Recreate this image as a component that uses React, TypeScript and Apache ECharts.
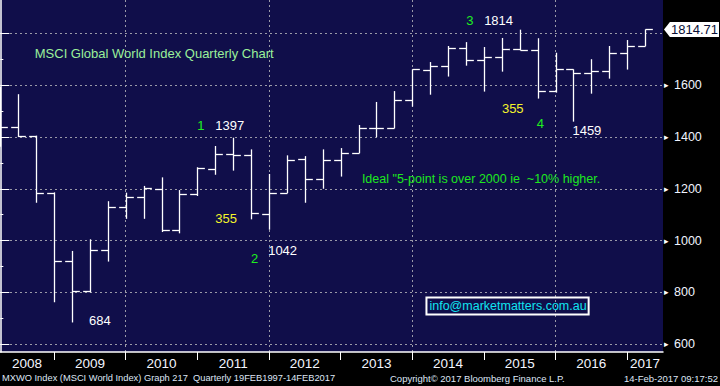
import React, { useEffect, useRef } from 'react';
import * as echarts from 'echarts';

// ---- Data ----
const quarters = [
  '2008Q1', '2008Q2', '2008Q3', '2008Q4', '2009Q1', '2009Q2', '2009Q3', '2009Q4',
  '2010Q1', '2010Q2', '2010Q3', '2010Q4', '2011Q1', '2011Q2', '2011Q3', '2011Q4',
  '2012Q1', '2012Q2', '2012Q3', '2012Q4', '2013Q1', '2013Q2', '2013Q3', '2013Q4',
  '2014Q1', '2014Q2', '2014Q3', '2014Q4', '2015Q1', '2015Q2', '2015Q3', '2015Q4',
  '2016Q1', '2016Q2', '2016Q3', '2016Q4', '2017Q1',
];
const opens = [1589, 1437, 1402, 1185, 921, 804, 963, 1128, 1167, 1198, 1041, 1179, 1275, 1333, 1329, 1101, 1183, 1314, 1237, 1310, 1337, 1433, 1433, 1541, 1657, 1673, 1742, 1696, 1707, 1738, 1734, 1578, 1661, 1646, 1653, 1723, 1750];
const highs = [1594, 1565, 1405, 1186, 960, 1005, 1152, 1185, 1211, 1244, 1195, 1283, 1365, 1397, 1352, 1257, 1329, 1326, 1352, 1357, 1446, 1535, 1577, 1661, 1689, 1751, 1766, 1747, 1782, 1814, 1781, 1725, 1661, 1700, 1751, 1774, 1815];
const lows = [1362, 1400, 1146, 762, 684, 800, 919, 1084, 1084, 1033, 1028, 1172, 1254, 1270, 1082, 1042, 1183, 1146, 1200, 1247, 1337, 1399, 1433, 1517, 1563, 1633, 1675, 1575, 1652, 1734, 1548, 1571, 1459, 1567, 1625, 1660, 1750];
const closes = [1438, 1402, 1185, 921, 804, 963, 1128, 1167, 1202, 1041, 1179, 1279, 1333, 1329, 1105, 1183, 1310, 1237, 1310, 1337, 1433, 1433, 1541, 1661, 1673, 1742, 1696, 1707, 1738, 1734, 1578, 1661, 1646, 1653, 1723, 1750, 1814.71];
const lastClose = closes[closes.length - 1];

const years = [2008, 2009, 2010, 2011, 2012, 2013, 2014, 2015, 2016, 2017];
const gridYears = [2010, 2012, 2014, 2016];
const yTickValues = [600, 800, 1000, 1200, 1400, 1600, 1800];
const yLabelValues = [600, 800, 1000, 1200, 1400, 1600];
const yMinorValues = [700, 900, 1100, 1300, 1500, 1700];

const annotations = [
  { text: 'MSCI Global World Index Quarterly Chart', x: 8.59, y: 1723, kind: 'title' },
  { text: '1', x: 11.2, y: 1446, kind: 'wave' },
  { text: '1397', x: 12.81, y: 1446, kind: 'value' },
  { text: '355', x: 12.61, y: 1086, kind: 'fib' },
  { text: '2', x: 14.19, y: 932, kind: 'wave' },
  { text: '1042', x: 15.76, y: 960, kind: 'value' },
  { text: '684', x: 5.56, y: 690, kind: 'value' },
  { text: '3', x: 26.21, y: 1849, kind: 'wave' },
  { text: '1814', x: 27.82, y: 1849, kind: 'value' },
  { text: '355', x: 28.61, y: 1511, kind: 'fib' },
  { text: '4', x: 30.15, y: 1450, kind: 'wave' },
  { text: '1459', x: 32.75, y: 1424, kind: 'value' },
  { text: 'Ideal "5-point is over 2000 ie  ~10% higher.', x: 26.84, y: 1238, kind: 'ideal' },
];
const emailNote = { text: 'info@marketmatters.com.au', x: 28.32, y: 748 };

const footerLeft = 'MXWO Index (MSCI World Index) Graph 217  Quarterly 19FEB1997-14FEB2017';
const footerMid = 'Copyright\u00A9 2017 Bloomberg Finance L.P.';
const footerRight = '14-Feb-2017 09:17:52';

// ---- Styling ----
const X_MIN = -0.02;
const X_MAX = 37;
const Y_MIN = 570;
const Y_MAX = 1928.5;
const FONT = '"Liberation Sans", Arial, sans-serif';
const PLOT_BG = '#100e4a';
const GRID_LINE = '#9a9aa8';
const kindStyle: Record<string, { color: string; size: number }> = {
  title: { color: '#9af09a', size: 13 },
  wave: { color: '#1ef01e', size: 13 },
  value: { color: '#ffffff', size: 13 },
  fib: { color: '#f4f42a', size: 13 },
  ideal: { color: '#1ee81e', size: 12.5 },
};

const yearStart = (y: number) => (y - 2008) * 4 - 1;
const yearBoundaries = years.slice(1).map((y) => yearStart(y));
const gridBoundaries = gridYears.map((y) => yearStart(y));
const yearLabelPos = years.map((y) => {
  const a = Math.max(yearStart(y), X_MIN);
  const b = Math.min(yearStart(y) + 4, X_MAX);
  return (a + b) / 2;
});

function buildOption(): any {
  const ohlc = quarters.map((_, i) => [i, opens[i], highs[i], lows[i], closes[i]]);
  const crisp = (v: number) => Math.round(v) + 0.5;
  return {
    animation: false,
    backgroundColor: '#000000',
    grid: { left: 0, right: 57, top: 0, bottom: 34, show: true, backgroundColor: PLOT_BG, borderWidth: 0 },
    xAxis: [
      {
        type: 'value', min: X_MIN, max: X_MAX, position: 'bottom',
        axisLine: { show: true, onZero: false, lineStyle: { color: '#ffffff', width: 1.5 } },
        axisTick: { show: true, customValues: yearBoundaries, length: 8, lineStyle: { color: '#ffffff', width: 1 } },
        axisLabel: {
          customValues: yearLabelPos, margin: 4, color: '#f4f6ff', fontSize: 13.5, fontFamily: FONT,
          formatter: (v: number) => {
            let best = 0;
            yearLabelPos.forEach((p, k) => { if (Math.abs(p - v) < Math.abs(yearLabelPos[best] - v)) best = k; });
            return String(years[best]);
          },
        },
        splitLine: { show: false },
      },
      {
        type: 'value', min: X_MIN, max: X_MAX, position: 'bottom',
        axisLine: { show: false }, axisLabel: { show: false },
        axisTick: { show: false, customValues: gridBoundaries },
        splitLine: { show: true, lineStyle: { color: GRID_LINE, type: [2, 3], width: 1 } },
      },
    ],
    yAxis: [
      {
        type: 'value', min: Y_MIN, max: Y_MAX, position: 'right',
        axisLine: { show: true, lineStyle: { color: '#ffffff', width: 1.5 } },
        axisTick: { show: true, customValues: yTickValues, length: 9, lineStyle: { color: '#ffffff', width: 1 } },
        axisLabel: {
          customValues: yLabelValues, margin: 1,
          formatter: (v: number) => `{t|\u25B8}{v|${v}}`,
          rich: {
            t: { fontSize: 9, color: '#ffffff', width: 10, fontFamily: 'DejaVu Sans' },
            v: { fontSize: 12.5, color: '#f0f4ff', fontFamily: FONT },
          },
        },
        splitLine: { show: true, lineStyle: { color: GRID_LINE, type: [2, 3], width: 1 } },
      },
      {
        type: 'value', min: Y_MIN, max: Y_MAX, position: 'right',
        axisLine: { show: false }, axisLabel: { show: false }, splitLine: { show: false },
        axisTick: { show: true, customValues: yMinorValues, length: 3, lineStyle: { color: '#ffffff', width: 1 } },
      },
    ],
    series: [
      {
        type: 'custom',
        xAxisIndex: 0, yAxisIndex: 0,
        data: ohlc,
        encode: { x: 0, y: [1, 2, 3, 4] },
        renderItem: (_params: any, api: any) => {
          const x = api.value(0);
          const o = api.coord([x, api.value(1)]);
          const h = api.coord([x, api.value(2)]);
          const l = api.coord([x, api.value(3)]);
          const c = api.coord([x, api.value(4)]);
          const w = api.size([0.41, 0])[0];
          const cx = crisp(h[0]);
          const style = { stroke: '#ffffff', lineWidth: 1.3 };
          return {
            type: 'group',
            children: [
              { type: 'line', shape: { x1: cx, y1: h[1], x2: cx, y2: l[1] }, style },
              { type: 'line', shape: { x1: cx - w, y1: crisp(o[1]), x2: cx, y2: crisp(o[1]) }, style },
              { type: 'line', shape: { x1: cx, y1: crisp(c[1]), x2: cx + w, y2: crisp(c[1]) }, style },
            ],
          };
        },
        z: 3,
      },
      {
        type: 'scatter',
        xAxisIndex: 0, yAxisIndex: 0,
        symbolSize: 0,
        silent: true,
        z: 4,
        itemStyle: { opacity: 1 },
        label: { show: true, position: 'inside', fontFamily: FONT, opacity: 1 },
        data: [
          ...annotations.map((a) => ({
            value: [a.x, a.y],
            label: { show: true, formatter: a.text, color: kindStyle[a.kind].color, fontSize: kindStyle[a.kind].size, opacity: 1 },
          })),
          {
            value: [emailNote.x, emailNote.y],
            label: {
              show: true, formatter: emailNote.text, color: '#10e4f0', fontSize: 12.5, lineHeight: 15, opacity: 1,
              borderColor: '#ffffff', borderWidth: 2, padding: [1, 2, 1, 3],
            },
          },
        ],
        markPoint: {
          silent: true,
          animation: false,
          data: [
            {
              coord: [X_MAX, lastClose],
              symbol: 'path://M0,8L6,0L56,0L56,16L6,16Z',
              symbolSize: [55, 15],
              symbolKeepAspect: false,
              symbolOffset: [28.5, 0],
              itemStyle: { color: '#ffffff', opacity: 1 },
              label: {
                show: true, position: 'inside', formatter: lastClose.toFixed(2), color: '#0a1036',
                fontSize: 13, fontFamily: FONT, offset: [3, 0],
              },
            },
          ],
        },
      },
    ],
    graphic: [
      { type: 'text', x: 2, y: 378, silent: true, style: { text: footerLeft, fill: '#dfe6f5', fontSize: 9.3, fontFamily: FONT, align: 'left', verticalAlign: 'middle' } },
      { type: 'text', x: 390, y: 378, silent: true, style: { text: footerMid, fill: '#dfe6f5', fontSize: 9.5, fontFamily: FONT, align: 'left', verticalAlign: 'middle' } },
      { type: 'text', x: 718, y: 378, silent: true, style: { text: footerRight, fill: '#dfe6f5', fontSize: 9.5, fontFamily: FONT, align: 'right', verticalAlign: 'middle' } },
    ],
  };
}

export default function App() {
  const ref = useRef<HTMLDivElement>(null);
  useEffect(() => {
    if (!ref.current) return;
    const chart = echarts.init(ref.current, null, { renderer: 'svg' });
    chart.setOption(buildOption());
    return () => chart.dispose();
  }, []);
  return (
    <div
      ref={ref}
      style={{ position: 'fixed', left: 0, top: 0, width: 720, height: 386, background: '#000' }}
    />
  );
}
